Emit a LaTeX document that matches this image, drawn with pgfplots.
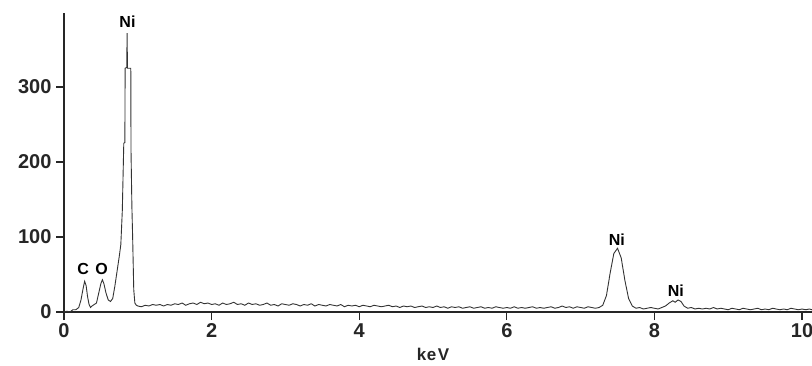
\documentclass[border=0pt]{standalone}
\usepackage{pgfplots}
\pgfplotsset{compat=1.18}
\usepackage{fontspec}
\setmainfont{Liberation Sans}
\pgfplotstableread{
x y
0.00 0
0.04 1
0.08 0
0.12 3
0.16 3
0.20 6
0.23 16
0.26 32
0.28 41
0.30 35
0.32 20
0.34 10
0.36 6
0.38 8
0.41 10
0.44 12
0.47 25
0.50 38
0.52 43
0.54 38
0.57 25
0.60 16
0.63 14
0.66 18
0.69 35
0.72 55
0.75 75
0.77 90
0.79 135
0.81 225
0.825 226
0.828 325
0.85 326
0.855 372
0.86 325
0.905 325
0.908 215
0.92 140
0.93 100
0.945 30
0.96 12
0.98 9
1.00 8
1.05 7
1.10 9
1.15 8
1.20 10
1.25 9
1.30 10
1.35 8
1.40 10
1.45 9
1.50 11
1.55 10
1.60 12
1.65 9
1.70 11
1.75 12
1.80 10
1.85 13
1.90 11
1.95 12
2.00 10
2.05 11
2.10 9
2.15 12
2.20 10
2.25 11
2.30 13
2.35 10
2.40 11
2.45 9
2.50 12
2.55 10
2.60 11
2.65 9
2.70 10
2.75 12
2.80 9
2.85 10
2.90 8
2.95 11
3.00 10
3.05 9
3.10 11
3.15 10
3.20 8
3.25 10
3.30 9
3.35 11
3.40 8
3.45 10
3.50 9
3.55 8
3.60 10
3.65 9
3.70 8
3.75 10
3.80 7
3.85 9
3.90 8
3.95 9
4.00 7
4.05 9
4.10 8
4.15 7
4.20 9
4.25 8
4.30 7
4.35 8
4.40 9
4.45 7
4.50 8
4.55 6
4.60 8
4.65 7
4.70 8
4.75 6
4.80 7
4.85 8
4.90 6
4.95 7
5.00 6
5.05 8
5.10 6
5.15 7
5.20 5
5.25 7
5.30 6
5.35 7
5.40 5
5.45 6
5.50 7
5.55 5
5.60 6
5.65 7
5.70 5
5.75 6
5.80 5
5.85 7
5.90 6
5.95 5
6.00 6
6.05 5
6.10 7
6.15 5
6.20 6
6.25 5
6.30 6
6.35 7
6.40 5
6.45 6
6.50 5
6.55 6
6.60 7
6.65 5
6.70 6
6.75 8
6.80 6
6.85 7
6.90 5
6.95 7
7.00 6
7.05 5
7.10 7
7.15 6
7.20 5
7.25 6
7.30 9
7.35 22
7.40 52
7.45 78
7.50 85
7.55 72
7.60 42
7.65 18
7.70 8
7.75 5
7.80 6
7.85 4
7.90 5
7.95 6
8.00 5
8.05 4
8.10 6
8.15 8
8.20 12
8.25 15
8.28 13
8.32 16
8.36 14
8.40 8
8.45 5
8.50 6
8.55 4
8.60 5
8.65 4
8.70 5
8.75 4
8.80 6
8.85 4
8.90 5
8.95 4
9.00 3
9.05 5
9.10 4
9.15 3
9.20 5
9.25 4
9.30 3
9.35 4
9.40 5
9.45 3
9.50 4
9.55 3
9.60 5
9.65 4
9.70 3
9.75 4
9.80 3
9.85 5
9.90 4
9.95 3
10.00 4
10.05 3
10.10 4
10.135 3
}\spectrum
\begin{document}
\begin{tikzpicture}
\useasboundingbox (-64pt,-53pt) rectangle (748pt,312pt);
\begin{axis}[
  scale only axis,
  width=748pt, height=299pt,
  xmin=0, xmax=10.135,
  ymin=0, ymax=398.7,
  axis lines=left,
  axis line style={-, line width=1.3pt, black!85},
  xtick={0,2,4,6,8,10},
  ytick={0,100,200,300},
  tick style={line width=1.3pt, black!85},
  tick align=outside,
  major tick length=8pt,
  every tick label/.append style={font=\fontsize{20}{20}\selectfont\bfseries, text=black!85},
  /pgf/number format/assume math mode=true,
  xticklabel style={yshift=0pt},
  yticklabel style={xshift=-1pt},
  xlabel={k\kern0.5pt e\kern1.5pt V},
  xlabel style={font=\fontsize{17}{17}\selectfont\bfseries, text=black!85, at={(axis cs:5.0,0)}, anchor=north, yshift=-33pt},
  clip=false,
]
\addplot[line width=0.9pt, black!80] table[x=x, y=y] {\spectrum};
\node[font=\fontsize{16}{16}\selectfont\bfseries] at (axis cs:0.26,57) {C};
\node[font=\fontsize{16}{16}\selectfont\bfseries] at (axis cs:0.51,57) {O};
\node[font=\fontsize{16}{16}\selectfont\bfseries] at (axis cs:0.86,387) {Ni};
\node[font=\fontsize{16}{16}\selectfont\bfseries] at (axis cs:7.49,97) {Ni};
\node[font=\fontsize{16}{16}\selectfont\bfseries] at (axis cs:8.29,28) {Ni};
\end{axis}
\end{tikzpicture}
\end{document}
